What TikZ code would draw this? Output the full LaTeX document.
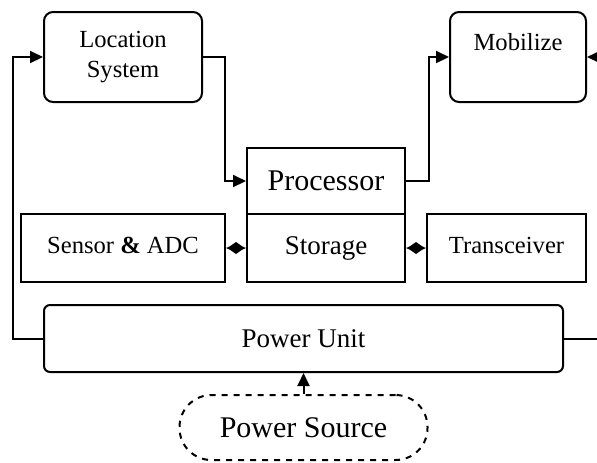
\documentclass[tikz,border=0pt]{standalone}
\usepackage{fontspec}
\setmainfont{Liberation Serif}
\usepackage{tikz}
\usetikzlibrary{arrows.meta}
\usetikzlibrary{positioning}

\tikzset{
  unit/.style={draw,line width=1pt,inner sep=0pt,align=center},
  roundunit/.style={unit,rounded corners=4.5pt},
  flatunit/.style={unit,rounded corners=0pt},
  feed/.style={line width=1pt,-{Triangle[length=6.5pt,width=6pt]}},
  busline/.style={line width=1pt,{Latex[length=5pt,width=6.5pt]}-{Latex[length=5pt,width=6.5pt]}},
}

\begin{document}
\begin{tikzpicture}[x=0.5pt,y=-0.5pt]
\clip (0,0) rectangle (597,462);
\useasboundingbox (0,0) rectangle (597,462);

\node (loc) at (123,57) [roundunit,minimum width=79pt,minimum height=45pt,font=\fontsize{12.3}{15}\selectfont]{Location\\System};
\node (mob) at (518,57) [roundunit,minimum width=68pt,minimum height=45pt,font=\fontsize{12.3}{15}\selectfont]{Mobilize\\\mbox{}};
\node (proc) at (326,181) [flatunit,minimum width=79pt,minimum height=33pt,font=\fontsize{15}{18}\selectfont]{Processor};
\node (stor) at (326,248) [flatunit,minimum width=79pt,minimum height=34pt,font=\fontsize{13.5}{16}\selectfont]{Storage};
\node (sens) at (123,248) [flatunit,minimum width=102pt,minimum height=34pt,font=\fontsize{12.3}{15}\selectfont]{\raisebox{3pt}{Sensor \textbf{\&} ADC}};
\node (tran) at (506.5,248) [flatunit,minimum width=79.5pt,minimum height=34pt,font=\fontsize{12.3}{15}\selectfont]{\raisebox{3pt}{Transceiver}};
\node (pwr) at (303.5,338.5) [unit,rounded corners=3pt,minimum width=259.5pt,minimum height=33.5pt,font=\fontsize{13.5}{16}\selectfont]{Power Unit};
\node (src) at (303.5,427.5) [unit,dashed,rounded corners=16pt,minimum width=124pt,minimum height=32.5pt,font=\fontsize{15}{18}\selectfont]{Power Source};

\draw[feed] (pwr.west) -- ++(-15pt,0) |- (loc.west);
\draw[feed] (loc.east) -- ++(11pt,0) |- (proc.west);
\draw[feed] (proc.east) -- ++(11.5pt,0) |- (mob.west);
\draw[feed] (pwr.east) -- ++(20pt,0) |- (mob.east);
\draw[busline] (sens.east) -- (stor.west);
\draw[busline] (stor.east) -- (tran.west);
\draw[feed] (src.north) -- (pwr.south);
\end{tikzpicture}
\end{document}
